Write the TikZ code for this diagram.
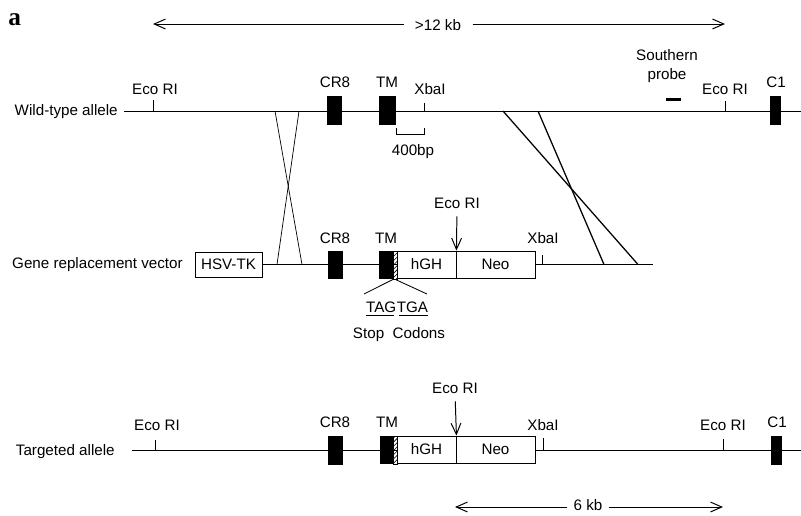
\documentclass[tikz,border=0pt]{standalone}
\usepackage{fontspec}
\setmainfont{Liberation Sans}
\newfontfamily\panelfont{Liberation Serif}
\usetikzlibrary{arrows.meta,patterns}
\newcommand{\pxl}{0.025cm}
\begin{document}
\begin{tikzpicture}[x=0.025cm, y=-0.025cm,
  lbl/.style={font=\fontsize{10.8}{12}\selectfont, inner sep=0pt, anchor=base},
  dna/.style={line width=0.7pt},
  xover/.style={line width=0.5pt},
  exon/.style={fill, inner sep=0pt, minimum width=15*\pxl, minimum height=29*\pxl},
  hatch/.style={draw, line width=0.4pt, pattern=north east lines, inner sep=0pt,
    minimum width=4*\pxl, minimum height=28*\pxl},
  gene/.style={draw, fill=white, line width=0.6pt, inner sep=0pt,
    minimum height=27*\pxl, font=\fontsize{10.8}{12}\selectfont},
  dim/.style={line width=0.7pt, -{Straight Barb[length=8pt,width=7pt]}}]
  \useasboundingbox (0,0) rectangle (801,515);

  \node[anchor=base west, inner sep=0pt, font=\panelfont\bfseries\fontsize{18}{18}\selectfont] (panel) at (8,25) {a};

  % size bars
  \node[lbl, inner xsep=0.28cm] (kb12) at (438,30.5) {>12 kb};
  \coordinate (kb12L) at (153,24);
  \coordinate (kb12R) at (725,24);
  \draw[dim] (kb12.west |- kb12L) -- (kb12L);
  \draw[dim] (kb12.east |- kb12R) -- (kb12R);
  \node[lbl, inner xsep=0.15cm] (kb6) at (588,510) {6 kb};
  \coordinate (kb6L) at (455,507);
  \coordinate (kb6R) at (723,507);
  \draw[dim] (kb6.west |- kb6L) -- (kb6L);
  \draw[dim] (kb6.east |- kb6R) -- (kb6R);

  % allele lines
  \node[gene, minimum width=67*\pxl, minimum height=25*\pxl] (hsv) at (228.5,264.5) {HSV-TK};
  \coordinate (wtL) at (124,111);
  \coordinate (wtR) at (801,111);
  \coordinate (vR) at (653,264.5);
  \coordinate (tgL) at (132,450);
  \coordinate (tgR) at (801,450);
  \draw[dna] (wtL) -- (wtR);
  \draw[dna] (hsv.east) -- (vR);
  \draw[dna] (tgL) -- (tgR);
  \foreach \x/\y/\t in {153/111/11, 424/111/8, 725/111/10, 542/264.5/10,
                        155/450/10, 543/450/12, 723/450/11}
    \draw[dna] (\x,\y) -- ++(0,-\t);
  \draw[dna] (396,128) -- (396,134) -- (424,134) -- (424,128);

  % crossovers
  \coordinate (wtx1) at (275,111);
  \coordinate (wtx2) at (299,111);
  \coordinate (wtx3) at (503,111);
  \coordinate (wtx4) at (538,111);
  \coordinate (vx1) at (277,264.5);
  \coordinate (vx2) at (302,264.5);
  \coordinate (vx3) at (604,264.5);
  \coordinate (vx4) at (638,264.5);
  \draw[xover] (wtx1) -- (vx2);
  \draw[xover] (wtx2) -- (vx1);
  \draw[xover, line width=0.9pt] (wtx3) -- (vx4);
  \draw[xover, line width=0.9pt] (wtx4) -- (vx3);

  % wild-type allele
  \node[lbl, anchor=base east] (wtname) at (118,115) {Wild-type allele};
  \node[exon] (wtcr8) at (334.5,110) {};
  \node[exon, minimum width=17*\pxl] (wttm) at (387.5,110) {};
  \node[exon, minimum width=11*\pxl] (wtc1) at (775.5,110) {};
  \node[fill, inner sep=0pt, minimum width=15*\pxl, minimum height=3*\pxl] (probe) at (673.5,99) {};
  \node[lbl] (wtri1) at (155,94) {Eco RI};
  \node[lbl] (wtcr8lbl) at (335,87) {CR8};
  \node[lbl] (wttmlbl) at (387,87) {TM};
  \node[lbl] (wtxba) at (430,94) {XbaI};
  \node[lbl] (wtbp) at (413,155) {400bp};
  \node[lbl] (south) at (667,60) {Southern};
  \node[lbl] (probelbl) at (667,79) {probe};
  \node[lbl] (wtri2) at (725,94) {Eco RI};
  \node[lbl] (wtc1lbl) at (776,87) {C1};

  % replacement vector
  \node[lbl, anchor=base east] (vname) at (183,268) {Gene replacement vector};
  \node[exon, minimum height=28*\pxl] (vcr8) at (335,265) {};
  \node[exon, minimum width=14*\pxl, minimum height=28*\pxl] (vtm) at (386,265) {};
  \node[hatch] (vhatch) at (395,265) {};
  \node[gene, minimum width=59*\pxl] (vhgh) at (426.5,264.5) {hGH};
  \node[gene, minimum width=79*\pxl] (vneo) at (495.5,264.5) {Neo};
  \node[lbl] (vcr8lbl) at (335,243) {CR8};
  \node[lbl] (vtmlbl) at (386,243) {TM};
  \node[lbl] (vxba) at (543,243) {XbaI};
  \node[lbl] (vri) at (457,208) {Eco RI};
  \draw[dim, shorten <=6pt] (vri.base) -- (vhgh.north east);

  % stop codons
  \node[lbl, anchor=base east] (tag) at (396.5,312) {TAG};
  \node[lbl, anchor=base west] (tga) at (396.5,312) {TGA};
  \draw[line width=0.5pt] ([yshift=-2.5pt]tag.base west) -- ([xshift=-1.5pt,yshift=-2.5pt]tag.base east);
  \draw[line width=0.5pt] ([xshift=1.5pt,yshift=-2.5pt]tga.base west) -- ([yshift=-2.5pt]tga.base east);
  \coordinate (stopL) at (364,294);
  \coordinate (stopR) at (427,294);
  \draw[line width=0.6pt] (vtm.south east) -- (stopL);
  \draw[line width=0.6pt] (vhatch.south) -- (stopR);
  \node[lbl] (stop) at (399,338) {Stop\hspace{6pt}Codons};

  % targeted allele
  \node[lbl, anchor=base east] (tgname) at (115,455) {Targeted allele};
  \node[exon] (tcr8) at (335,450) {};
  \node[exon, minimum width=14*\pxl, minimum height=28*\pxl] (ttm) at (386.5,450) {};
  \node[hatch] (thatch) at (395.5,450) {};
  \node[gene, minimum width=59*\pxl] (thgh) at (426.5,449.5) {hGH};
  \node[gene, minimum width=79*\pxl] (tneo) at (495.5,449.5) {Neo};
  \node[exon, minimum width=11*\pxl] (tc1) at (776.5,450) {};
  \node[lbl] (tri1) at (157,430) {Eco RI};
  \node[lbl] (tcr8lbl) at (335,427) {CR8};
  \node[lbl] (ttmlbl) at (387,427) {TM};
  \node[lbl] (tri2) at (455,393) {Eco RI};
  \draw[dim, shorten <=6pt] (tri2.base) -- (thgh.north east);
  \node[lbl] (txba) at (543,430) {XbaI};
  \node[lbl] (tri3) at (723,430) {Eco RI};
  \node[lbl] (tc1lbl) at (777,427) {C1};
\end{tikzpicture}
\end{document}
